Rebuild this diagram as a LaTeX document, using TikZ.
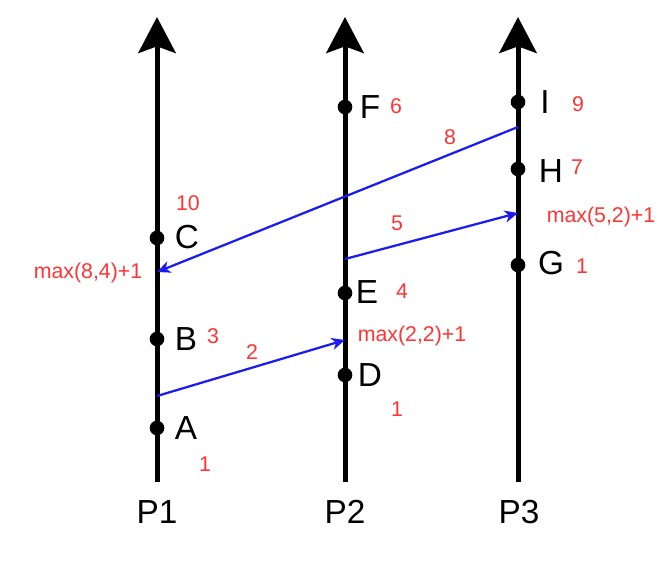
\documentclass[tikz,border=0pt]{standalone}
\usepackage{fontspec}
\setmainfont{Liberation Sans}
\usetikzlibrary{arrows,arrows.meta}

\definecolor{clockred}{RGB}{255,52,52}
\definecolor{msgblue}{RGB}{28,28,240}

\tikzset{
  proc/.style={line width=3.75pt,-{Stealth[length=27pt,width=28pt,inset=5pt]}},
  event/.style={shape=circle,fill=black,inner sep=0pt,minimum size=11pt},
  evname/.style={font=\fontsize{25}{25}\selectfont},
  clock/.style={text=clockred,font=\fontsize{16}{16}\selectfont},
  msg/.style={draw=msgblue,line width=1.7pt,-{Stealth[length=10pt,width=9pt,inset=3pt]}}
}

\begin{document}
\begin{tikzpicture}[x=0.75pt,y=-0.75pt]
                \useasboundingbox (0,0) rectangle (667,563);
                % process lines
                \coordinate (b1) at (157,482);
                \coordinate (t1) at (157,17);
                \coordinate (b2) at (345,482);
                \coordinate (t2) at (345,17);
                \coordinate (b3) at (518,482);
                \coordinate (t3) at (518,17);
                \draw[proc] (b1) -- (t1);
                \draw[proc] (b2) -- (t2);
                \draw[proc] (b3) -- (t3);
                \node[evname](P1)at(157,512){P1};
                \node[evname](P2)at(345,512){P2};
                \node[evname](P3)at(519,512){P3};

                % events
                \node[event](A)at(157,428){};
                \node[event](B)at(157,339){};
                \node[event](C)at(157,238){};
                \node[event](D)at(345,375){};
                \node[event](E)at(345,293){};
                \node[event](F)at(345,107){};
                \node[event](G)at(518,265){};
                \node[event](H)at(518,169){};
                \node[event](I)at(518,102){};
                \node[evname](lA)at(186,428){A};
                \node[evname](lB)at(186,339){B};
                \node[evname](lC)at(187,237){C};
                \node[evname](lD)at(370,375){D};
                \node[evname](lE)at(367,292){E};
                \node[evname](lF)at(370,107){F};
                \node[evname](lG)at(551,263){G};
                \node[evname](lH)at(551,171){H};
                \node[evname](lI)at(545,102){I};

                % clock values
                \node[clock](cA)at(205,464){1};
                \node[clock](cB)at(213,336){3};
                \node[clock](cC)at(188,203){10};
                \node[clock](cD)at(397,409){1};
                \node[clock](cE)at(402,291){4};
                \node[clock](cF)at(396,106){6};
                \node[clock](cG)at(582,266){1};
                \node[clock](cH)at(577,167){7};
                \node[clock](cI)at(578,104){9};
                \node[clock](mC)at(88,273){max(8,4)+1};
                \node[clock](mD)at(412,336){max(2,2)+1};
                \node[clock](mH)at(601,217){max(5,2)+1};

                % messages
                \coordinate (s1) at (157,396);
                \coordinate (r1) at (345,340);
                \coordinate (s2) at (345,259);
                \coordinate (r2) at (518,213);
                \coordinate (s3) at (518,127);
                \coordinate (r3) at (157,272);
                \path (s1) edge[msg] (r1)
                (s2) edge[msg] (r2)
                (s3) edge[msg] (r3);
                \node[clock](m1)at(252,352){2};
                \node[clock](m2)at(397,223){5};
                \node[clock](m3)at(450,137){8};
            \end{tikzpicture}
\end{document}
